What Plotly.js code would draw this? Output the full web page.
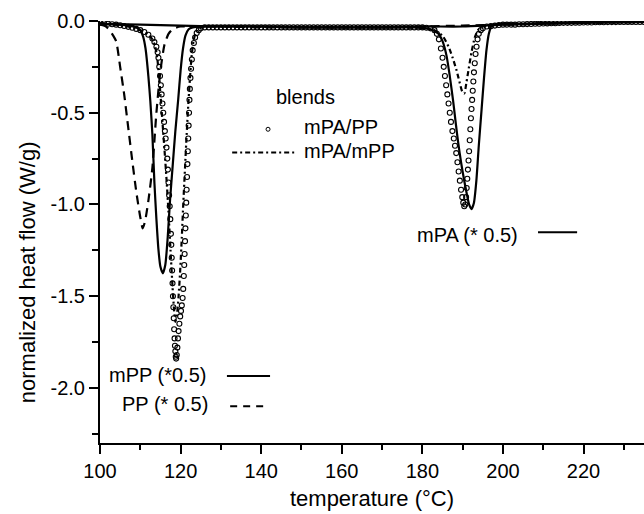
<!DOCTYPE html>
<html>
<head>
<meta charset="utf-8">
<script src="https://cdn.plot.ly/plotly-3.0.1.min.js"></script>
<style>html,body{margin:0;padding:0;background:#fff;}#chart{width:644px;height:514px;}</style>
</head>
<body>
<div id="chart"></div>
<script>
// ---- data ----
// PP (*0.5), dashed
const ppT = [100,101,102,103,104,105,106,107,108,109,110,110.6,111.2,112,113,114,115,116,117,118,119,120,122,125,130,140,150,160,170,180,190,200,210,220,235];
const ppY = [-0.02,-0.025,-0.04,-0.07,-0.11,-0.25,-0.40,-0.58,-0.76,-0.93,-1.07,-1.13,-1.09,-0.98,-0.80,-0.50,-0.27,-0.13,-0.07,-0.045,-0.035,-0.03,-0.03,-0.03,-0.03,-0.035,-0.035,-0.035,-0.035,-0.03,-0.025,-0.02,-0.015,-0.01,-0.005];

// mPP (*0.5), solid
const mppT = [100,104,107,109,110,110.7,111.3,112,112.5,113,113.5,114,114.5,115,115.6,116.2,116.8,117.4,118,118.7,119.4,120,120.6,121.2,122,123,125,130,140,150,160,170,180,190,200,210,220,235];
const mppY = [-0.015,-0.02,-0.025,-0.035,-0.05,-0.085,-0.15,-0.30,-0.44,-0.62,-0.88,-1.08,-1.245,-1.34,-1.375,-1.33,-1.18,-0.97,-0.80,-0.60,-0.43,-0.27,-0.15,-0.08,-0.045,-0.035,-0.03,-0.03,-0.03,-0.035,-0.035,-0.035,-0.03,-0.03,-0.02,-0.015,-0.01,-0.005];

// mPA (*0.5), solid
const mpaT = [100,110,120,130,140,150,160,170,178,182,184,185,186,186.8,187.6,188.3,188.9,189.6,190.3,191,191.6,192.2,192.8,193.4,194,194.7,195.3,195.9,196.5,197.2,198,200,205,210,220,235];
const mpaY = [-0.015,-0.02,-0.025,-0.03,-0.03,-0.035,-0.035,-0.035,-0.035,-0.045,-0.07,-0.11,-0.19,-0.30,-0.43,-0.56,-0.665,-0.77,-0.86,-0.94,-1.0,-1.025,-0.99,-0.87,-0.68,-0.48,-0.31,-0.16,-0.07,-0.025,-0.02,-0.015,-0.015,-0.01,-0.005,-0.005];

// blend mPA/mPP, dash-dot
const blendMT = [100,102,104,106,108,110,111,112,113,113.6,114.2,114.6,115.0,115.5,116.0,116.5,117.0,117.5,118.0,118.4,118.7,119.1,119.5,119.9,120.3,120.7,121.1,121.5,121.9,122.3,122.7,123.2,123.8,124.5,127,135,150,165,175,180,183,185,186.5,187.5,188.5,189.3,189.9,190.4,190.9,191.5,192.2,193.0,193.8,195,200,210,220,235];
const blendMY = [-0.01,-0.015,-0.02,-0.027,-0.035,-0.05,-0.06,-0.075,-0.10,-0.13,-0.20,-0.29,-0.40,-0.55,-0.70,-0.86,-1.04,-1.25,-1.45,-1.58,-1.64,-1.60,-1.50,-1.36,-1.18,-0.98,-0.80,-0.62,-0.46,-0.32,-0.20,-0.11,-0.06,-0.04,-0.03,-0.03,-0.035,-0.035,-0.035,-0.04,-0.05,-0.08,-0.14,-0.20,-0.27,-0.34,-0.385,-0.395,-0.34,-0.26,-0.17,-0.09,-0.05,-0.03,-0.02,-0.015,-0.01,-0.005];

// blend mPA/PP, open circles
const blendPT = [100,101,102,103,104,105,106,107,108,109,110,111,112,113,113.5,
 114.0,114.3,114.5,114.7,114.9,115.1,115.3,115.5,115.7,115.9,116.1,116.3,116.5,116.7,116.85,117.0,117.15,117.3,117.45,117.6,117.7,117.8,117.9,118.0,118.1,118.2,118.3,118.4,118.5,118.6,118.7,118.8,118.9,
 119.05,119.2,119.35,119.5,119.7,119.9,120.1,120.3,120.5,120.65,120.8,120.9,121.0,121.1,121.2,121.3,121.4,121.5,121.6,121.7,121.8,121.9,122.0,122.1,122.2,122.3,122.45,122.6,122.8,123.0,123.3,123.6,124.0,124.5,125,
 126,127,128,129,130,131,132,133,134,135,136,137,138,139,140,141,142,143,144,145,146,147,148,149,150,151,152,153,154,155,156,157,158,159,160,161,162,163,164,165,166,167,168,169,170,171,172,173,174,175,176,177,178,179,180,181,182,
 183,183.6,184.1,184.6,185.0,185.3,185.6,185.9,186.2,186.5,186.8,187.1,187.45,187.8,188.1,188.4,188.7,189.0,189.3,189.6,189.9,190.15,190.4,
 190.65,190.85,191.0,191.15,191.3,191.45,191.6,191.75,191.9,192.05,192.2,192.35,192.5,192.65,192.8,193.0,193.2,193.45,193.7,194.0,194.5,195,
 196,197,198,199,200,201,202,203,204,205,206,207,208,209,210,211,212,213,214,215,216,217,218,219,220,221,222,223,224,225,226,227,228,229,230,231,232,233,234,235];
const blendPY = [-0.01,-0.012,-0.015,-0.018,-0.02,-0.023,-0.027,-0.032,-0.037,-0.043,-0.05,-0.06,-0.075,-0.095,-0.115,
 -0.14,-0.17,-0.20,-0.25,-0.30,-0.35,-0.40,-0.45,-0.50,-0.55,-0.60,-0.64,-0.69,-0.75,-0.81,-0.88,-0.95,-1.01,-1.08,-1.16,-1.22,-1.29,-1.36,-1.43,-1.50,-1.56,-1.62,-1.68,-1.73,-1.77,-1.80,-1.83,-1.84,
 -1.82,-1.78,-1.73,-1.69,-1.65,-1.61,-1.58,-1.55,-1.51,-1.46,-1.39,-1.33,-1.27,-1.20,-1.13,-1.06,-0.99,-0.92,-0.85,-0.78,-0.71,-0.64,-0.57,-0.50,-0.43,-0.37,-0.31,-0.26,-0.21,-0.16,-0.12,-0.09,-0.065,-0.05,-0.04,
 -0.035,-0.035,-0.035,-0.035,-0.035,-0.035,-0.035,-0.035,-0.035,-0.035,-0.035,-0.035,-0.035,-0.035,-0.035,-0.035,-0.035,-0.035,-0.035,-0.035,-0.035,-0.035,-0.035,-0.035,-0.035,-0.035,-0.035,-0.035,-0.035,-0.035,-0.035,-0.035,-0.035,-0.035,-0.035,-0.035,-0.035,-0.035,-0.035,-0.035,-0.035,-0.035,-0.035,-0.035,-0.035,-0.035,-0.035,-0.035,-0.035,-0.035,-0.035,-0.035,-0.035,-0.035,-0.035,-0.037,-0.04,
 -0.05,-0.07,-0.10,-0.15,-0.20,-0.25,-0.30,-0.35,-0.40,-0.45,-0.50,-0.55,-0.60,-0.64,-0.68,-0.72,-0.77,-0.82,-0.87,-0.92,-0.96,-0.99,-1.01,
 -1.00,-0.96,-0.91,-0.86,-0.81,-0.76,-0.71,-0.65,-0.59,-0.53,-0.48,-0.43,-0.38,-0.33,-0.28,-0.23,-0.18,-0.14,-0.10,-0.07,-0.05,-0.04,
 -0.03,-0.028,-0.025,-0.022,-0.02,-0.02,-0.02,-0.02,-0.018,-0.018,-0.017,-0.016,-0.015,-0.015,-0.014,-0.013,-0.012,-0.012,-0.011,-0.01,-0.01,-0.01,-0.009,-0.009,-0.008,-0.008,-0.008,-0.007,-0.007,-0.007,-0.006,-0.006,-0.006,-0.005,-0.005,-0.005,-0.005,-0.005,-0.005,-0.005];

// axis ticks
const xTickVals = [100,120,140,160,180,200,220];
const xTickText = ['100','120','140','160','180','200','220'];
const yTickVals = [0,-0.5,-1.0,-1.5,-2.0];
const yTickText = ['0.0','-0.5','-1.0','-1.5','-2.0'];

// labels
const labelBlends = 'blends';
const labelMPAPP = 'mPA/PP';
const labelMPAmPP = 'mPA/mPP';
const labelMPP = 'mPP (*0.5)';
const labelPP = 'PP (* 0.5)';
const labelMPA = 'mPA (* 0.5)';
const xTitle = 'temperature (°C)';
const yTitle = 'normalized heat flow (W/g)';

const FONT = 'Liberation Sans, Arial, Helvetica, sans-serif';
const ink = '#000';

const traces = [
  {x: ppT, y: ppY, mode: 'lines', line: {color: ink, width: 2.2, dash: '9px,6px', shape: 'spline', smoothing: 0.6}, hoverinfo: 'skip'},
  {x: mppT, y: mppY, mode: 'lines', line: {color: ink, width: 2.2, shape: 'spline', smoothing: 0.6}, hoverinfo: 'skip'},
  {x: mpaT, y: mpaY, mode: 'lines', line: {color: ink, width: 2.2, shape: 'spline', smoothing: 0.6}, hoverinfo: 'skip'},
  {x: blendMT, y: blendMY, mode: 'lines', line: {color: ink, width: 2.2, dash: '5px,3px,2px,3px', shape: 'spline', smoothing: 0.6}, hoverinfo: 'skip'},
  {x: blendPT, y: blendPY, mode: 'markers', marker: {symbol: 'circle-open', size: 5, color: ink, line: {width: 1.1, color: ink}}, hoverinfo: 'skip'}
];

const annFont = {family: FONT, size: 20, color: ink};
const layout = {
  width: 644, height: 514,
  margin: {l: 100, r: 0, t: 21, b: 71, pad: 0},
  paper_bgcolor: '#fff', plot_bgcolor: '#fff',
  showlegend: false,
  font: {family: FONT, color: ink},
  xaxis: {
    range: [100, 235], tickmode: 'array', tickvals: xTickVals, ticktext: xTickText,
    ticks: 'outside', ticklen: 9, tickwidth: 2, tickcolor: ink,
    showline: true, linewidth: 2, linecolor: ink, mirror: false,
    showgrid: false, zeroline: false,
    tickfont: {family: FONT, size: 20, color: ink},
    minor: {tickmode: 'linear', tick0: 100, dtick: 10, ticks: 'outside', ticklen: 5, tickwidth: 2, tickcolor: ink, showgrid: false},
    title: {text: xTitle, font: {family: FONT, size: 22, color: ink}, standoff: 10}
  },
  yaxis: {
    range: [-2.3, 0], tickmode: 'array', tickvals: yTickVals, ticktext: yTickText,
    ticks: 'outside', ticklen: 9, tickwidth: 2, tickcolor: ink,
    showline: true, linewidth: 2, linecolor: ink, mirror: false,
    showgrid: false, zeroline: false,
    tickfont: {family: FONT, size: 20, color: ink},
    minor: {tickmode: 'linear', tick0: 0, dtick: 0.25, ticks: 'outside', ticklen: 6, tickwidth: 2, tickcolor: ink, showgrid: false}
  },
  annotations: [
    {x: -0.134, y: 0.405, xref: 'paper', yref: 'paper', text: yTitle, textangle: -90, showarrow: false, xanchor: 'center', yanchor: 'middle', font: {family: FONT, size: 22, color: ink}},
    {x: 151.1, y: -0.413, xref: 'x', yref: 'y', text: labelBlends, showarrow: false, xanchor: 'center', yanchor: 'middle', font: annFont},
    {x: 150.1, y: -0.58, xref: 'x', yref: 'y', text: labelMPAPP, showarrow: false, xanchor: 'left', yanchor: 'middle', font: annFont},
    {x: 150.1, y: -0.71, xref: 'x', yref: 'y', text: labelMPAmPP, showarrow: false, xanchor: 'left', yanchor: 'middle', font: annFont},
    {x: 126.8, y: -1.93, xref: 'x', yref: 'y', text: labelMPP, showarrow: false, xanchor: 'right', yanchor: 'middle', font: annFont},
    {x: 127.3, y: -2.09, xref: 'x', yref: 'y', text: labelPP, showarrow: false, xanchor: 'right', yanchor: 'middle', font: annFont},
    {x: 204.2, y: -1.165, xref: 'x', yref: 'y', text: labelMPA, showarrow: false, xanchor: 'right', yanchor: 'middle', font: annFont}
  ],
  shapes: [
    {type: 'line', xref: 'x', yref: 'y', x0: 132.8, x1: 148.9, y0: -0.717, y1: -0.717, line: {color: ink, width: 2, dash: '5px,3px,2px,3px'}},
    {type: 'circle', xref: 'x', yref: 'y', xsizemode: 'pixel', ysizemode: 'pixel', xanchor: 141.7, yanchor: -0.59, x0: -2, x1: 2, y0: -2, y1: 2, line: {color: ink, width: 1}},
    {type: 'line', xref: 'x', yref: 'y', x0: 131.5, x1: 142.2, y0: -1.935, y1: -1.935, line: {color: ink, width: 2}},
    {type: 'line', xref: 'x', yref: 'y', x0: 132.3, x1: 141.4, y0: -2.10, y1: -2.10, line: {color: ink, width: 2, dash: '7px,6px'}},
    {type: 'line', xref: 'x', yref: 'y', x0: 208.7, x1: 218.4, y0: -1.152, y1: -1.152, line: {color: ink, width: 2}}
  ]
};

Plotly.newPlot('chart', traces, layout, {staticPlot: true, displayModeBar: false});
</script>
</body>
</html>
